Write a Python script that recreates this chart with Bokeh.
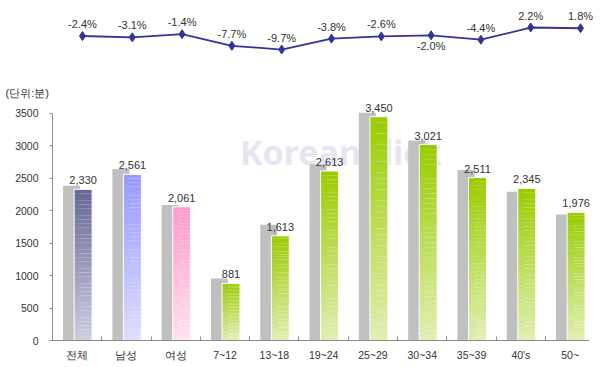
from bokeh.plotting import figure
from bokeh.layouts import column
from bokeh.models import ColumnDataSource, Range1d, FixedTicker, Title, Label, LabelSet
from bokeh.embed import file_html
from bokeh.resources import INLINE
from bokeh.core.properties import value

# ---- data ----
categories = ["전체", "남성", "여성", "7~12", "13~18", "19~24", "25~29", "30~34", "35~39", "40's", "50~"]
current_minutes = [2330, 2561, 2061, 881, 1613, 2613, 3450, 3021, 2511, 2345, 1976]
previous_minutes = [2387, 2643, 2090, 955, 1786, 2716, 3510, 3083, 2627, 2295, 1941]
change_pct = [-2.4, -3.1, -1.4, -7.7, -9.7, -3.8, -2.6, -2.0, -4.4, 2.2, 1.8]
y_ticks = [0, 500, 1000, 1500, 2000, 2500, 3000, 3500]
unit_label = "(단위:분)"

# ---- styles ----
NUM_FONT = "Liberation Sans"
TXT = "#333333"
AXIS = "#8c8c8c"
GREEN = ((0x99, 0xCC, 0x00), (0xE2, 0xEF, 0xB4))
bar_grad = [((0x66, 0x66, 0x99), (0xCF, 0xCF, 0xE0)),
            ((0x99, 0x99, 0xFF), (0xDE, 0xDE, 0xFF)),
            ((0xFF, 0x99, 0xCC), (0xFF, 0xE4, 0xF0))] + [GREEN] * 8
label_below = [False] * 7 + [True] + [False] * 3
N_SLICES = 40

n = len(categories)
idx = list(range(n))
gray_x = [i - 0.113 for i in idx]
cur_x = [i + 0.121 for i in idx]

def mix(a, b, t):
    return "#%02x%02x%02x" % tuple(int(round(a[k] * t + b[k] * (1 - t))) for k in range(3))

# ---- top line chart ----
top = figure(width=594, height=78, x_range=Range1d(-0.602, 10.281),
             y_range=Range1d(-25.36, 16.8), output_backend="svg",
             toolbar_location=None, min_border=0)
top.axis.visible = False
top.grid.visible = False
top.outline_line_color = None
top.line(idx, change_pct, line_color="#333399", line_width=1.8)
top.scatter(idx, change_pct, marker="diamond", size=9, fill_color="#333399",
            line_color="#333399")
pct_txt = ["%.1f%%" % v for v in change_pct]
up = ColumnDataSource(dict(x=[i for i in idx if not label_below[i]],
                           y=[change_pct[i] for i in idx if not label_below[i]],
                           t=[pct_txt[i] for i in idx if not label_below[i]]))
dn = ColumnDataSource(dict(x=[i for i in idx if label_below[i]],
                           y=[change_pct[i] for i in idx if label_below[i]],
                           t=[pct_txt[i] for i in idx if label_below[i]]))
top.add_layout(LabelSet(x="x", y="y", text="t", source=up, text_align="center",
                        text_baseline="bottom", y_offset=6, text_font=value(NUM_FONT),
                        text_font_size=value("11px"), text_color=TXT))
top.add_layout(LabelSet(x="x", y="y", text="t", source=dn, text_align="center",
                        text_baseline="top", y_offset=-5, text_font=value(NUM_FONT),
                        text_font_size=value("11px"), text_color=TXT))

# ---- bar chart ----
p = figure(width=594, height=289, x_range=Range1d(-0.5, 10.494),
           y_range=Range1d(0, 3700), output_backend="svg", toolbar_location=None,
           min_border_left=52, min_border_right=0, min_border_top=22, min_border_bottom=27)
p.grid.visible = False
p.outline_line_color = None
p.add_layout(Title(text=unit_label, align="left", offset=-47, text_font_size="11px",
                   text_font_style="normal", text_color=TXT,
                   text_font=NUM_FONT, standoff=4), "above")

# watermark
p.add_layout(Label(x=5.35, y=2900, text="KoreanClick", text_align="center",
                   text_baseline="middle", text_font="Noto Sans", text_font_style="bold",
                   text_font_size="34px", text_color="#e6e6f3", level="underlay"))

# gray previous bars
p.vbar(x=gray_x, width=0.345, top=previous_minutes, bottom=0,
       fill_color="#c0c0c0", line_color=None)

# gradient current bars
sx, sb, st, sc = [], [], [], []
for i in idx:
    v = current_minutes[i]
    tc, bc = bar_grad[i]
    for k in range(N_SLICES):
        sx.append(cur_x[i])
        sb.append(v * k / N_SLICES)
        st.append(v * (k + 1) / N_SLICES)
        sc.append(mix(tc, bc, (k + 0.5) / N_SLICES))
p.vbar(x="x", width=0.365, top="t", bottom="b", fill_color="c", line_color=None,
       source=ColumnDataSource(dict(x=sx, t=st, b=sb, c=sc)))
p.vbar(x=cur_x, width=0.365, top=current_minutes, bottom=0, fill_color=None,
       line_color="white", line_width=1)

vals = ColumnDataSource(dict(x=cur_x, y=current_minutes,
                             t=["{:,}".format(v) for v in current_minutes]))
p.add_layout(LabelSet(x="x", y="y", text="t", source=vals, text_align="center",
                      text_baseline="bottom", y_offset=5, text_font=value(NUM_FONT),
                      text_font_size=value("11px"), text_color=TXT))

# axes
p.xaxis.bounds = (-0.5, 10.392)
p.yaxis.bounds = (0, 3500)
p.xaxis.ticker = FixedTicker(ticks=idx, minor_ticks=[i + 0.5 for i in range(n - 1)])
p.xaxis.major_label_overrides = {i: categories[i] for i in idx}
p.xaxis.major_tick_in = 0
p.xaxis.major_tick_out = 0
p.xaxis.minor_tick_in = 4
p.xaxis.minor_tick_out = 0
p.xaxis.minor_tick_line_color = AXIS
p.xaxis.major_label_standoff = 8
p.yaxis.ticker = FixedTicker(ticks=y_ticks)
p.yaxis.major_tick_in = 0
p.yaxis.major_tick_out = 3
p.yaxis.minor_tick_line_color = None
p.yaxis.major_label_standoff = 11
for ax in (p.xaxis, p.yaxis):
    ax.axis_line_color = AXIS
    ax.major_tick_line_color = AXIS
    ax.major_label_text_font = NUM_FONT
    ax.major_label_text_font_size = "10.5px"
    ax.major_label_text_color = TXT

layout = column(top, p, spacing=0)
open("out.html", "w").write(file_html(layout, INLINE))
